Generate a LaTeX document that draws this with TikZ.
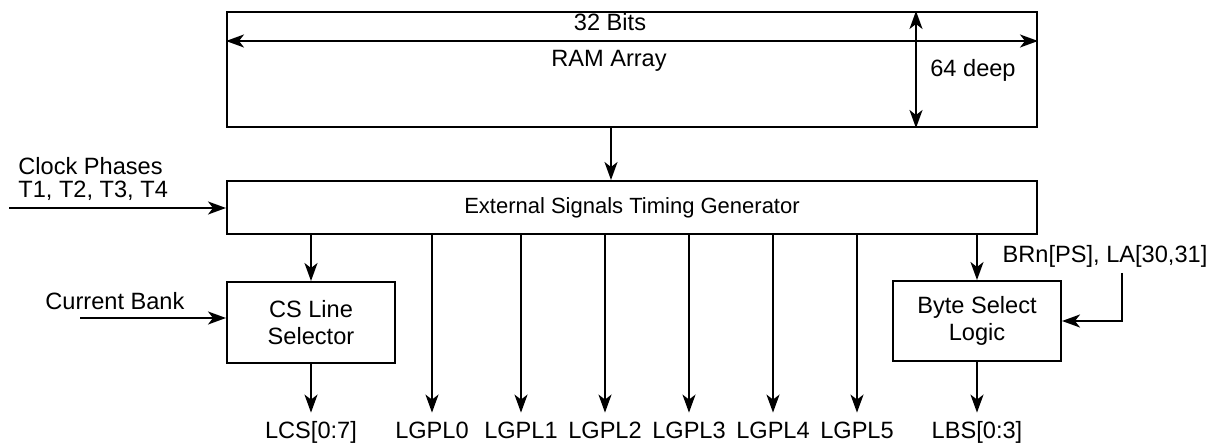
\documentclass[tikz,border=0pt]{standalone}
\usepackage{fontspec}
\setmainfont{Liberation Sans}
\usetikzlibrary{arrows.meta,positioning}

\begin{document}
\begin{tikzpicture}[
    x=0.5pt, y=-0.5pt,
    every node/.style={font=\fontsize{11.8}{11.5}\selectfont},
    block/.style={rectangle, draw, line width=1pt, align=center, inner sep=0pt},
    txt/.style={inner sep=0pt, anchor=base},
    outlbl/.style={anchor=base, inner xsep=1pt, inner ysep=4pt, text height=8.5pt, text depth=2.5pt},
    arrow/.style={-{Stealth[length=9pt,width=6.5pt,inset=2.5pt]}, line width=1pt},
    dblarrow/.style={{Stealth[length=9pt,width=6.5pt,inset=2.5pt]}-{Stealth[length=9pt,width=6.5pt,inset=2.5pt]}, line width=1pt}
  ]
    \useasboundingbox (0,0) rectangle (1211,443);

    % memory and timing generator
    \node[block, minimum width=405pt, minimum height=57.5pt] (ram) at (632,69.5) {};
    \node[txt] (bits) at (610,31) {32 Bits};
    \node[txt] (ramtxt) at (609,67) {RAM Array};
    \node[txt] (deep) at (973,77) {64 deep};
    \node[block, minimum width=405pt, minimum height=26.5pt, font=\fontsize{11}{12}\selectfont] (estg) at (632,207.5) {External Signals Timing Generator};

    % selectors
    \node[block, minimum width=84pt, minimum height=40.5pt, font=\fontsize{11.8}{13.5}\selectfont] (cs) at (311,322.5) {CS Line\\Selector};
    \node[block, minimum width=84pt, minimum height=40pt, font=\fontsize{11.8}{13.5}\selectfont] (bsl) at (977,321) {Byte Select\\Logic};

    % inputs
    \node[anchor=base west, inner sep=0pt, align=left] (clktxt) at (18,198) {Clock Phases\\T1, T2, T3, T4};
    \coordinate (clk) at (9,208);
    \node[anchor=base west, inner sep=0pt] (cbtxt) at (45,310) {Current Bank};
    \coordinate (cb) at (80,318);
    \node[txt] (brntxt) at (1105,263) {BRn[PS], LA[30,31]};
    \coordinate (brn) at (1122,273);

    % outputs
    \node[outlbl] (lcs) at (311,438) {LCS[0:7]};
    \node[outlbl] (lg0) at (432,438) {LGPL0};
    \node[outlbl] (lg1) at (521,438) {LGPL1};
    \node[outlbl] (lg2) at (605,438) {LGPL2};
    \node[outlbl] (lg3) at (689,438) {LGPL3};
    \node[outlbl] (lg4) at (773,438) {LGPL4};
    \node[outlbl] (lg5) at (857,438) {LGPL5};
    \node[outlbl] (lbs) at (977,438) {LBS[0:3]};

    \draw[dblarrow] ([yshift=-15pt]ram.north west) -- ([yshift=-15pt]ram.north east);
    \draw[dblarrow] ([xshift=345pt]ram.north west) -- ([xshift=345pt]ram.south west);
    \draw[arrow] ([xshift=-10.5pt]ram.south) -- ([xshift=-10.5pt]estg.north);

    \draw[arrow] (clk) -- (clk -| estg.west);
    \draw[arrow] (cb) -- (cb -| cs.west);
    \draw[arrow] (brn) |- (bsl.east);

    \draw[arrow] (estg.south -| cs.north) -- (cs.north);
    \draw[arrow] (estg.south -| bsl.north) -- (bsl.north);
    \draw[arrow] (cs.south) -- (lcs.north);
    \draw[arrow] (bsl.south) -- (lbs.north);
    \foreach \i in {0,...,5}
      \draw[arrow] (estg.south -| lg\i.north) -- (lg\i.north);
\end{tikzpicture}
\end{document}
